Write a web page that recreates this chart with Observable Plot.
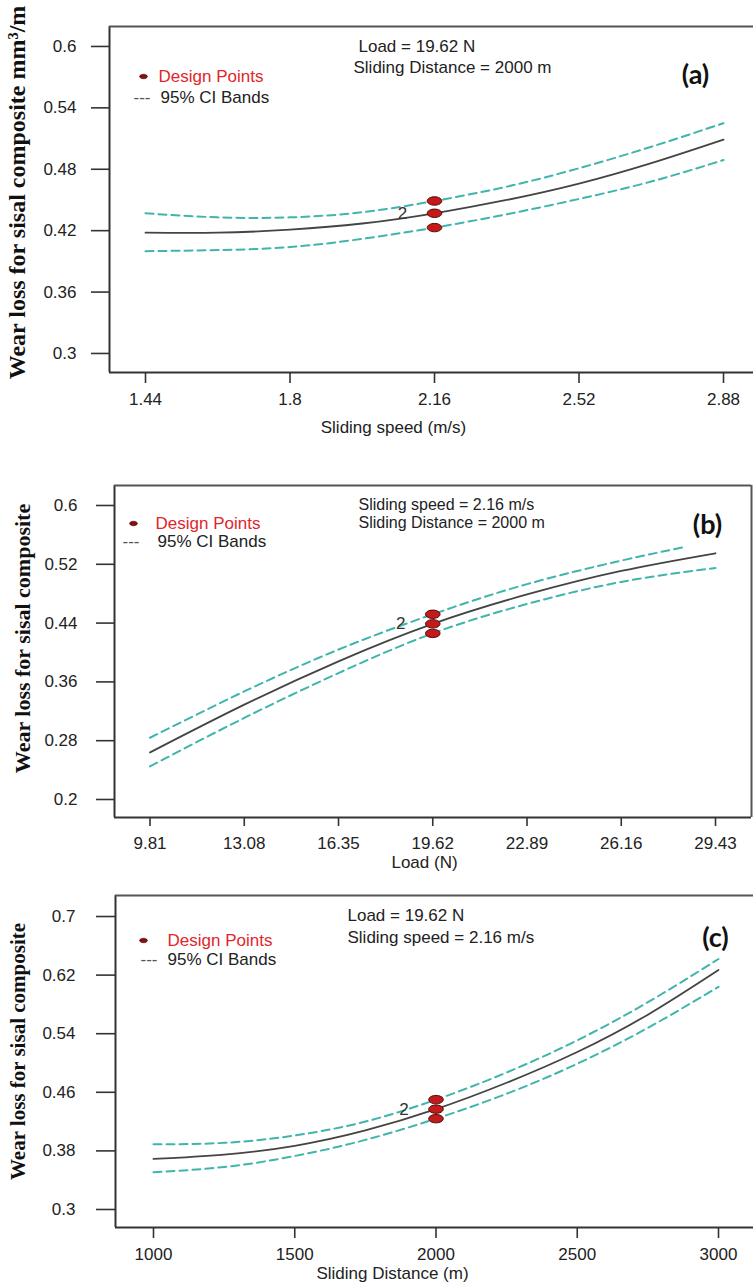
<!DOCTYPE html>
<html><head><meta charset="utf-8">
<script src="https://cdn.jsdelivr.net/npm/d3@7"></script>
<script src="https://cdn.jsdelivr.net/npm/@observablehq/plot@0.6"></script>
<style>
body{margin:0;background:#fff;}
#wrap{position:relative;width:753px;height:1285px;overflow:hidden;background:#fff;}
#wrap svg{position:absolute;left:0;}
</style></head><body><div id="wrap"></div>
<script>
// ---------- Panel (a): sliding speed ----------
const speedX     = [1.44, 1.62, 1.80, 1.98, 2.16, 2.34, 2.52, 2.70, 2.88];
const speedFit   = [0.418, 0.418, 0.421, 0.427, 0.437, 0.450, 0.466, 0.486, 0.509];
const speedUpper = [0.437, 0.433, 0.433, 0.438, 0.449, 0.463, 0.481, 0.502, 0.525];
const speedLower = [0.400, 0.401, 0.404, 0.412, 0.423, 0.436, 0.451, 0.468, 0.489];
const speedDesignX = 2.16;
const speedDesign  = [0.449, 0.437, 0.423];
const speedXTicks  = [1.44, 1.8, 2.16, 2.52, 2.88];
const speedYTicks  = [0.3, 0.36, 0.42, 0.48, 0.54, 0.6];
const speedXDomain = [1.3503, 2.9547];
const speedYDomain = [0.2814, 0.6195];

// ---------- Panel (b): load ----------
const loadX      = [9.81, 13.08, 16.35, 19.62, 22.89, 26.16, 29.43];
const loadFit    = [0.264, 0.329, 0.388, 0.439, 0.479, 0.511, 0.535];
const loadUpperX = [9.81, 13.08, 16.35, 19.62, 22.89, 26.16, 28.3];
const loadUpper  = [0.284, 0.347, 0.404, 0.452, 0.493, 0.525, 0.543];
const loadLower  = [0.245, 0.311, 0.372, 0.426, 0.466, 0.496, 0.515];
const loadDesignX = 19.62;
const loadDesign  = [0.452, 0.439, 0.426];
const loadXTicks  = [9.81, 13.08, 16.35, 19.62, 22.89, 26.16, 29.43];
const loadYTicks  = [0.2, 0.28, 0.36, 0.44, 0.52, 0.6];
const loadXDomain = [8.578, 30.679];
const loadYDomain = [0.1755, 0.6272];

// ---------- Panel (c): sliding distance ----------
const distX     = [1000, 1250, 1500, 1750, 2000, 2250, 2500, 2750, 3000];
const distFit   = [0.369, 0.375, 0.387, 0.408, 0.437, 0.473, 0.515, 0.566, 0.627];
const distUpper = [0.389, 0.391, 0.401, 0.420, 0.450, 0.487, 0.531, 0.583, 0.642];
const distLower = [0.351, 0.358, 0.373, 0.395, 0.424, 0.458, 0.499, 0.548, 0.604];
const distDesignX = 2000;
const distDesign  = [0.450, 0.437, 0.424];
const distXTicks  = [1000, 1500, 2000, 2500, 3000];
const distYTicks  = [0.3, 0.38, 0.46, 0.54, 0.62, 0.7];
const distXDomain = [865.5, 3123.9];
const distYDomain = [0.2754, 0.7287];

const TEAL = "#3fb5ad", FIT = "#444", FRAME = "#333", RED = "#e0262b";
const SANS = "'Liberation Sans', Arial, sans-serif";
const SERIF = "'Liberation Serif', 'Times New Roman', serif";

// ellipse symbol for design points
const ellipse = {
  draw(ctx, size) {
    const r = Math.sqrt(size / Math.PI), rx = r * 1.3, ry = r * 0.75, k = 0.5523;
    ctx.moveTo(rx, 0);
    ctx.bezierCurveTo(rx, ry * k, rx * k, ry, 0, ry);
    ctx.bezierCurveTo(-rx * k, ry, -rx, ry * k, -rx, 0);
    ctx.bezierCurveTo(-rx, -ry * k, -rx * k, -ry, 0, -ry);
    ctx.bezierCurveTo(rx * k, -ry, rx, -ry * k, rx, 0);
    ctx.closePath();
  }
};

const wrap = document.getElementById("wrap");

function build(c) {
  const rows = (xs, ys) => xs.map((x, i) => ({x, y: ys[i]}));
  const fitRows = rows(c.x, c.fit);
  const upRows = rows(c.upX || c.x, c.up);
  const loRows = rows(c.x, c.lo);
  const design = c.design.map(y => ({x: c.designX, y}));
  const note = (t, px, py, o = {}) => Plot.text([t], {
    text: d => d, frameAnchor: "top-left", dx: px - c.ml, dy: py - c.mt,
    textAnchor: "start", lineAnchor: "middle", fontSize: 17, fill: "#222", ...o
  });
  const marks = [
    Plot.axisX({ticks: c.xTicks, tickFormat: d => String(d), tickSize: c.xTickSize, tickPadding: c.xTickPad,
      fontSize: 17, label: null, stroke: FRAME, strokeWidth: 1.6}),
    Plot.axisY({ticks: c.yTicks, tickFormat: d => String(d), tickSize: c.yTickSize, tickPadding: c.yTickPad,
      fontSize: 17, label: null, stroke: FRAME, strokeWidth: 1.6}),
    Plot.ruleX([c.xDomain[0]], {stroke: FRAME, strokeWidth: 2}),
    Plot.ruleY([c.yDomain[0]], {stroke: FRAME, strokeWidth: 2}),
    Plot.ruleY([c.yDomain[1]], {stroke: "#555", strokeWidth: 2}),
    c.rightLine ? Plot.ruleX([c.xDomain[1]], {stroke: "#555", strokeWidth: 2}) : null,
    Plot.line(upRows, {x: "x", y: "y", curve: "natural", stroke: TEAL, strokeWidth: 2, strokeDasharray: "8,5"}),
    Plot.line(loRows, {x: "x", y: "y", curve: "natural", stroke: TEAL, strokeWidth: 2, strokeDasharray: "8,5"}),
    Plot.line(fitRows, {x: "x", y: "y", curve: "natural", stroke: FIT, strokeWidth: 1.8}),
    Plot.dot(design, {x: "x", y: "y", symbol: ellipse, r: 5.6, fill: "#c41a1a", stroke: "#4a0808", strokeWidth: 1}),
    Plot.text([design[1]], {x: "x", y: "y", text: () => "2", dx: -32, fontSize: 17, fill: "#333"}),
    // y title
    note(c.yTitle, c.yTitlePos[0], c.yTitlePos[1], {rotate: -90, textAnchor: "middle", fontFamily: SERIF,
      fontWeight: "bold", fontSize: c.yTitleSize, fill: "#111"}),
    // x title
    note(c.xTitle, c.xTitlePos[0], c.xTitlePos[1], {textAnchor: "middle"}),
    // conditions
    note(c.cond[0], c.condPos[0][0], c.condPos[0][1], {fontSize: c.condSize}),
    note(c.cond[1], c.condPos[1][0], c.condPos[1][1], {fontSize: c.condSize}),
    // panel tag
    note(c.tag, c.tagPos[0], c.tagPos[1], {textAnchor: "middle", fontFamily: "Lato, 'Open Sans', sans-serif",
      fontWeight: "bold", fontSize: 27, fill: "#111"}),
    // legend
    Plot.dot([0], {frameAnchor: "top-left", dx: c.leg.marker[0] - c.ml, dy: c.leg.marker[1] - c.mt,
      symbol: ellipse, r: 3, fill: "#8a0c0c", stroke: "#3a0000", strokeWidth: 0.6}),
    note("Design Points", c.leg.dp[0], c.leg.dp[1], {fill: RED}),
    note("---", c.leg.dash[0], c.leg.dash[1], {fill: "#555"}),
    note("95% CI Bands", c.leg.ci[0], c.leg.ci[1])
  ];
  const svg = Plot.plot({
    width: 753, height: c.height,
    marginLeft: c.ml, marginRight: c.mr, marginTop: c.mt, marginBottom: c.mb,
    style: {fontFamily: SANS, color: "#222", background: "transparent", overflow: "visible"},
    x: {domain: c.xDomain},
    y: {domain: c.yDomain},
    marks
  });
  svg.style.top = c.top + "px";
  wrap.append(svg);
}

build({
  top: 0, height: 440, ml: 109, mr: 0, mt: 26, mb: 68,
  x: speedX, fit: speedFit, up: speedUpper, lo: speedLower,
  designX: speedDesignX, design: speedDesign,
  xTicks: speedXTicks, yTicks: speedYTicks, xDomain: speedXDomain, yDomain: speedYDomain,
  xTickSize: 11, xTickPad: 9, yTickSize: 18, yTickPad: 15,
  yTitle: "Wear loss for sisal composite mm³/m", yTitlePos: [17, 192], yTitleSize: 24,
  xTitle: "Sliding speed (m/s)", xTitlePos: [393, 427],
  cond: ["Load = 19.62 N", "Sliding Distance = 2000 m"], condPos: [[358, 46], [353, 67]], condSize: 17,
  tag: "(a)", tagPos: [695, 75],
  leg: {marker: [143, 76], dp: [158, 76], dash: [133, 97], ci: [160, 97]}
});

build({
  top: 440, height: 435, ml: 114, mr: 2, mt: 45, mb: 58, rightLine: true,
  x: loadX, fit: loadFit, upX: loadUpperX, up: loadUpper, lo: loadLower,
  designX: loadDesignX, design: loadDesign,
  xTicks: loadXTicks, yTicks: loadYTicks, xDomain: loadXDomain, yDomain: loadYDomain,
  xTickSize: 9, xTickPad: 10, yTickSize: 18, yTickPad: 19,
  yTitle: "Wear loss for sisal composite", yTitlePos: [22, 198], yTitleSize: 22,
  xTitle: "Load (N)", xTitlePos: [424, 422],
  cond: ["Sliding speed = 2.16 m/s", "Sliding Distance = 2000 m"], condPos: [[358, 64], [358, 82]], condSize: 16,
  tag: "(b)", tagPos: [707, 85],
  leg: {marker: [133, 83], dp: [155, 83], dash: [122, 101], ci: [157, 101]}
});

build({
  top: 875, height: 410, ml: 115, mr: 0, mt: 20, mb: 58,
  x: distX, fit: distFit, up: distUpper, lo: distLower,
  designX: distDesignX, design: distDesign,
  xTicks: distXTicks, yTicks: distYTicks, xDomain: distXDomain, yDomain: distYDomain,
  xTickSize: 11, xTickPad: 9, yTickSize: 19, yTickPad: 21,
  yTitle: "Wear loss for sisal composite", yTitlePos: [18, 176], yTitleSize: 21,
  xTitle: "Sliding Distance (m)", xTitlePos: [392, 398],
  cond: ["Load = 19.62 N", "Sliding speed = 2.16 m/s"], condPos: [[347, 40], [347, 62]], condSize: 17,
  tag: "(c)", tagPos: [715, 63],
  leg: {marker: [143, 65], dp: [167, 65], dash: [140, 84], ci: [167, 84]}
});
</script></body></html>
